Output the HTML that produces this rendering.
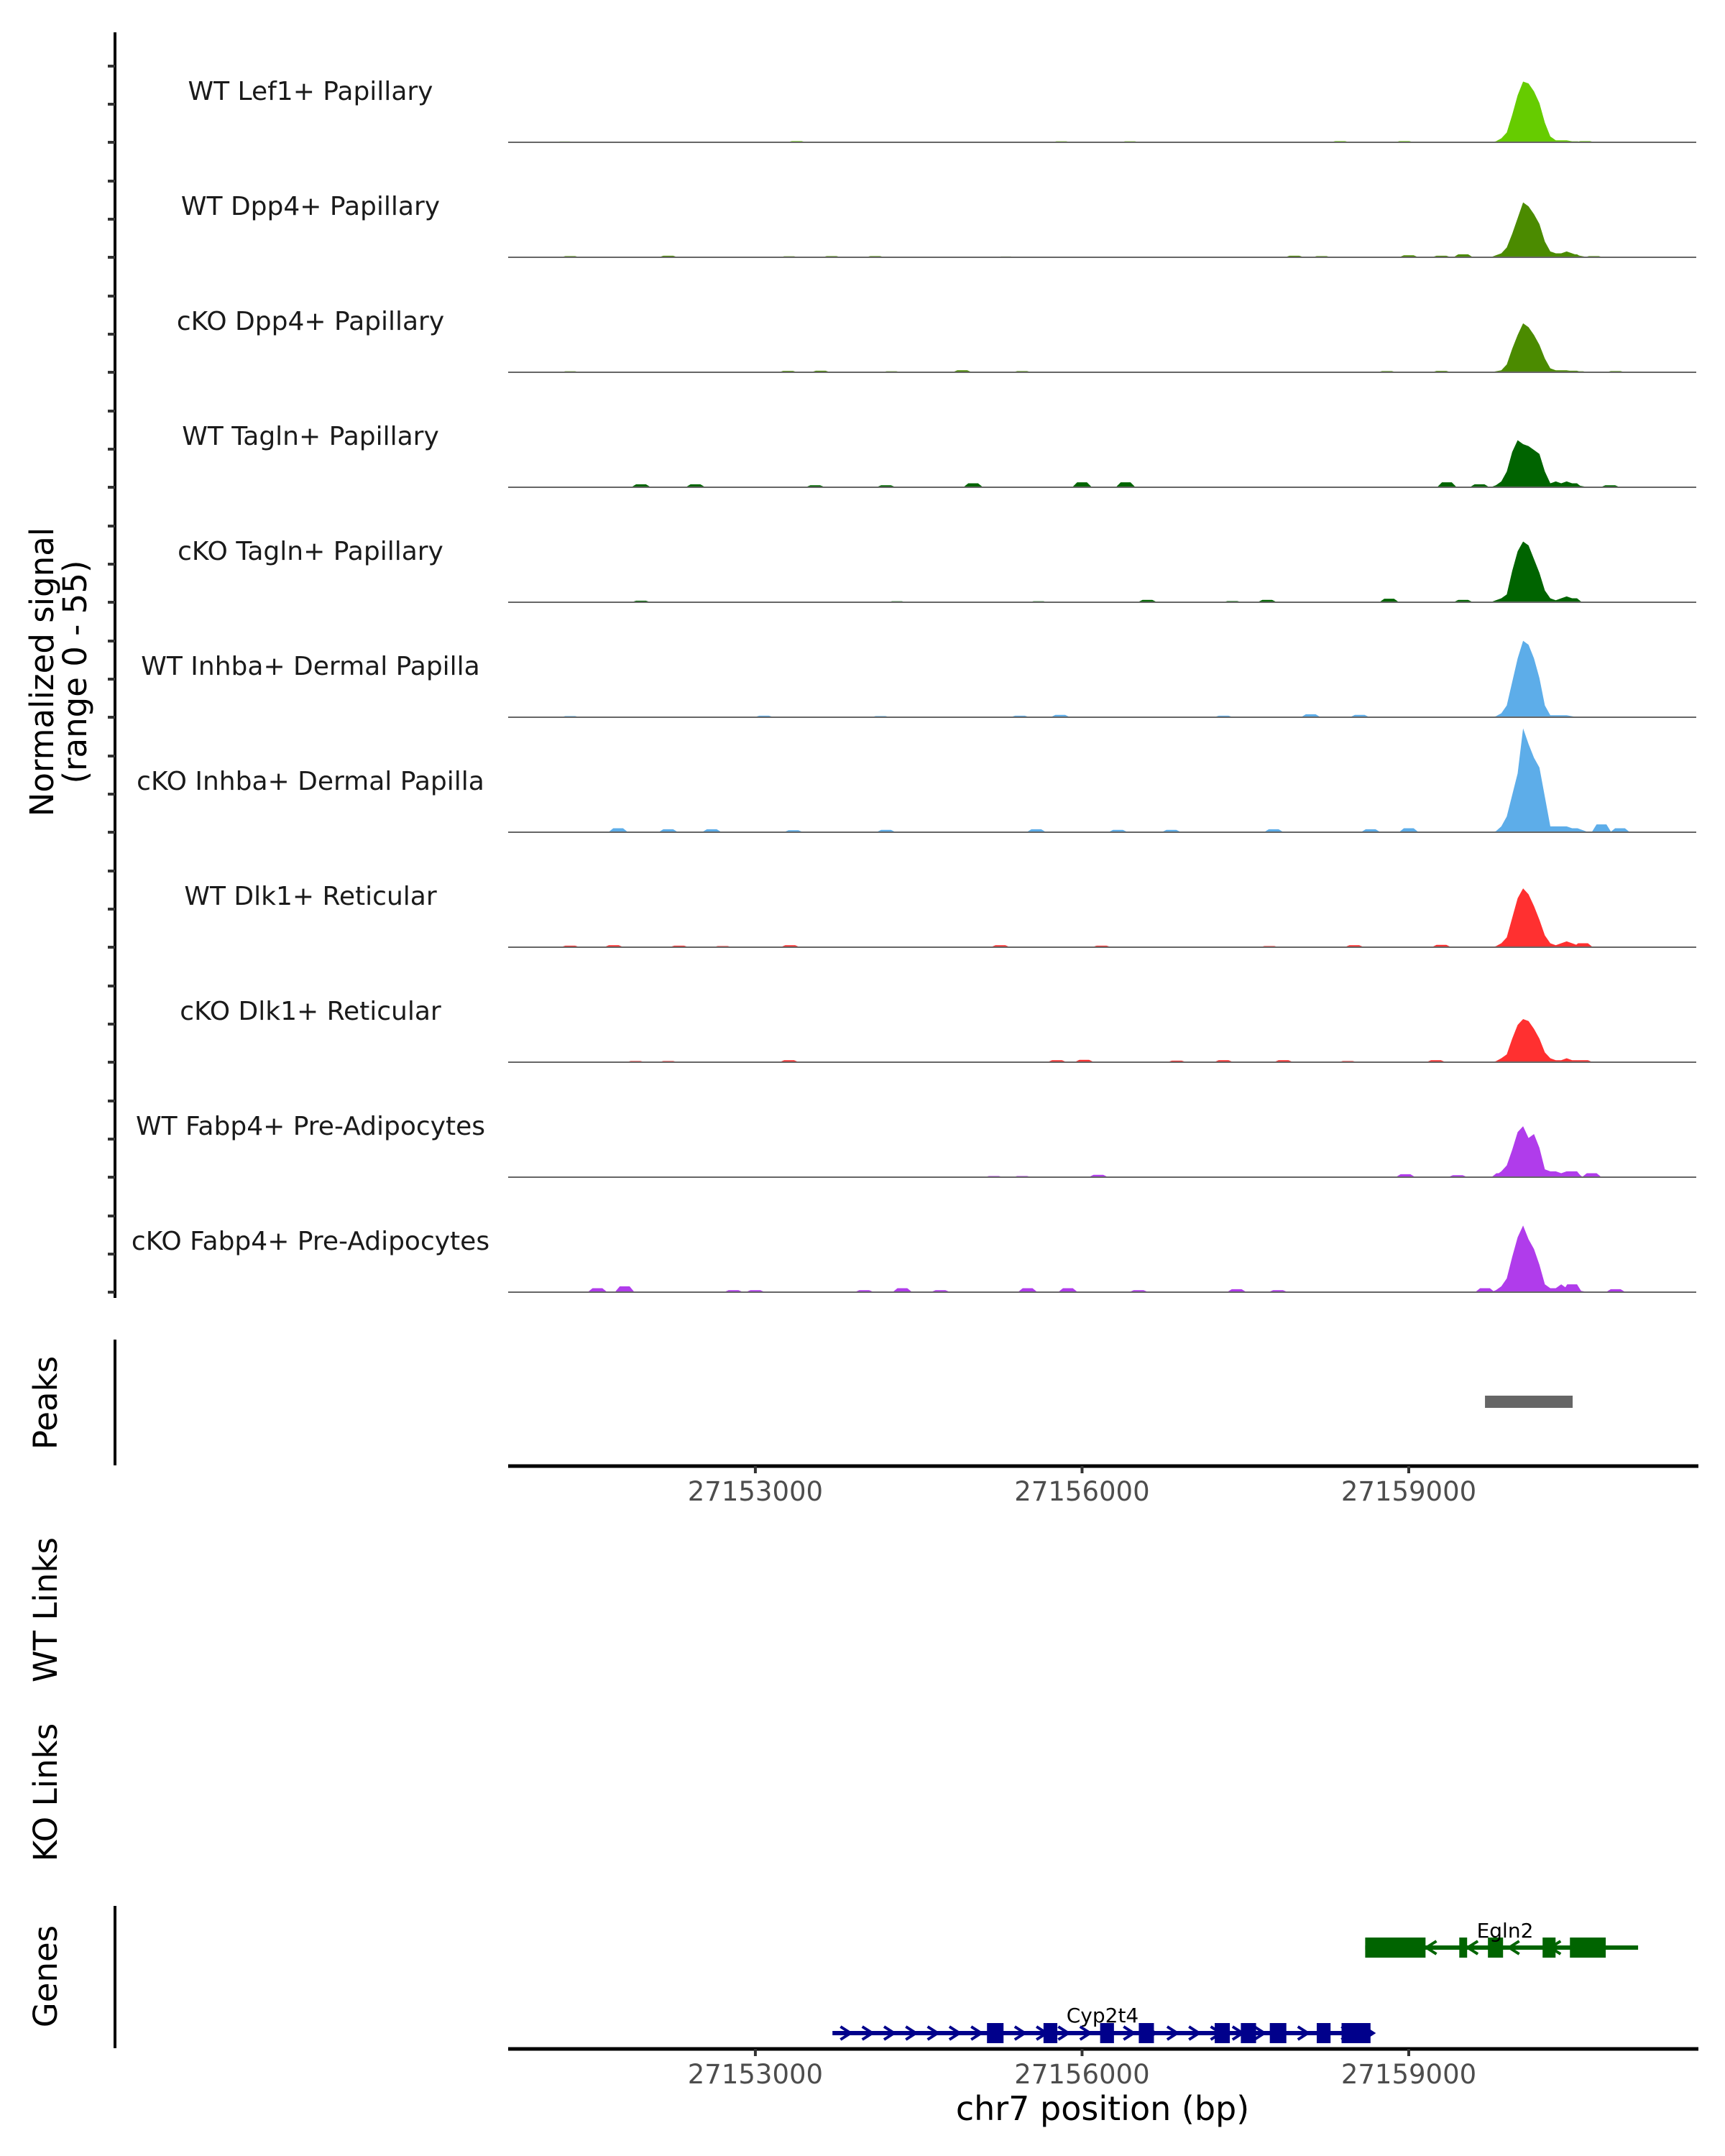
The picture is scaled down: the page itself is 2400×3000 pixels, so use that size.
<!DOCTYPE html>
<html><head><meta charset="utf-8">
<style>
html,body{margin:0;padding:0;background:#fff;}
svg{display:block;font-family:"DejaVu Sans","Liberation Sans",sans-serif;}
</style></head>
<body>
<svg id="fig" width="2400" height="3000" viewBox="0 0 2400 3000" xmlns="http://www.w3.org/2000/svg"></svg>
<script>
// ---- data ----
const domainStart = 27150730, domainEnd = 27161640;
const xTicks = [27153000, 27156000, 27159000];
const trackNames = ["WT Lef1+ Papillary","WT Dpp4+ Papillary","cKO Dpp4+ Papillary","WT Tagln+ Papillary","cKO Tagln+ Papillary","WT Inhba+ Dermal Papilla","cKO Inhba+ Dermal Papilla","WT Dlk1+ Reticular","cKO Dlk1+ Reticular","WT Fabp4+ Pre-Adipocytes","cKO Fabp4+ Pre-Adipocytes"];
const trackColors = ["#66cc00","#4b8b00","#4b8b00","#006400","#006400","#5dade9","#5dade9","#ff3030","#ff3030","#b03ceb","#b03ceb"];
const peakStart = 27159750, peakStep = 50;
const peak0 = [0,0.5,2,5,14,24,31,30,26,20,10,3,1,1,1,0.5,0.5,0,0];
const peak1 = [0,1,2,5,12,20,28,26,22,17,8,3,2,2,3,2,1,0.5,0];
const peak2 = [0,0.5,1,4,12,19,25,23,19,14,7,2,1,1,1,0.5,0.5,0.5,0];
const peak3 = [0,1,3,8,18,24,22,21,19,17,8,2,3,2,3,2,1,0.5,0];
const peak4 = [0,1,2,4,16,26,31,29,22,15,6,2,1,2,3,2,1,0,0];
const peak5 = [0,0.5,2,6,18,30,39,37,30,20,6,1,1,1,1,0.5,0,0,0];
const peak6 = [0,0.5,3,8,19,30,53,45,38,33,18,3,3,3,3,2,2,1,0];
const peak7 = [0,0.5,2,5,15,25,30,27,21,14,6,2,1,2,3,2,1,0,0];
const peak8 = [0,0.5,2,4,12,19,22,21,17,12,5,2,1,1,2,1,1,0,0];
const peak9 = [0,1,3,6,14,23,26,20,22,15,4,3,3,2,3,2,2,0,0];
const peak10 = [0,1,3,7,18,28,34,27,22,14,4,2,2,4,2,1,1,0.5,0];
const peaks = [peak0,peak1,peak2,peak3,peak4,peak5,peak6,peak7,peak8,peak9,peak10];
const bumpPos0 = [27151250,27153380,27155810,27156440,27158370,27158960,27160620];
const bumpVal0 = [0.4,0.6,0.5,0.5,0.6,0.6,0.6];
const bumpPos1 = [27151300,27152200,27153310,27153700,27154100,27155300,27157950,27158200,27159000,27159300,27159500,27160500,27160700];
const bumpVal1 = [0.6,0.8,0.5,0.6,0.6,0.4,0.8,0.6,1,0.8,1.5,1.5,0.6];
const bumpPos2 = [27151300,27153300,27153600,27154250,27154900,27155450,27158800,27159300,27160500,27160900];
const bumpVal2 = [0.5,0.7,0.8,0.5,1,0.6,0.6,0.7,0.8,0.6];
const bumpPos3 = [27151950,27152450,27153550,27154200,27155000,27156000,27156400,27159350,27159650,27160500,27160850];
const bumpVal3 = [1.5,1.5,1,1,2,2.5,2.5,2.5,1.5,2,1];
const bumpPos4 = [27151950,27154300,27155600,27156600,27157380,27157700,27158820,27159500,27160500];
const bumpVal4 = [0.8,0.5,0.5,1.2,0.6,1.2,1.8,1.2,2];
const bumpPos5 = [27151300,27153080,27154150,27155430,27155800,27157300,27158100,27158550];
const bumpVal5 = [0.6,0.8,0.6,0.8,1.2,0.8,1.5,1.2];
const bumpPos6 = [27151740,27152200,27152600,27153350,27154200,27155580,27156330,27156820,27157760,27158650,27159000,27160770,27160940];
const bumpVal6 = [2,1.5,1.5,1,1.2,1.5,1.2,1.2,1.5,1.5,2,4,2];
const bumpPos7 = [27151300,27151700,27152300,27152700,27153320,27155250,27156180,27157720,27158500,27159300,27160600];
const bumpVal7 = [0.8,1,0.8,0.6,1,1,0.8,0.6,1,1.2,2];
const bumpPos8 = [27151900,27152200,27153310,27155770,27156020,27156870,27157300,27157850,27158440,27159250,27160600];
const bumpVal8 = [0.6,0.6,1,1,1.2,0.8,1,1,0.6,1,1];
const bumpPos9 = [27155190,27155450,27156150,27158970,27159450,27159850,27160500,27160680];
const bumpVal9 = [0.6,0.6,1.2,1.5,1,2,3,2];
const bumpPos10 = [27151550,27151800,27152800,27153000,27154000,27154350,27154700,27155500,27155870,27156520,27157420,27157800,27159700,27160500,27160900];
const bumpVal10 = [2,3,1,1,1,2,1,2,2,1,1.5,1,2,4,1.5];
const bumpPos = [bumpPos0,bumpPos1,bumpPos2,bumpPos3,bumpPos4,bumpPos5,bumpPos6,bumpPos7,bumpPos8,bumpPos9,bumpPos10];
const bumpVal = [bumpVal0,bumpVal1,bumpVal2,bumpVal3,bumpVal4,bumpVal5,bumpVal6,bumpVal7,bumpVal8,bumpVal9,bumpVal10];
const peakRegionStart = [27159700], peakRegionEnd = [27160505];
const eglnStart = 27158600, eglnEnd = 27161106;
const eglnExonStart = [27158600,27159464,27159727,27160229,27160480];
const eglnExonEnd = [27159154,27159536,27159866,27160348,27160809];
const cypStart = 27153708, cypEnd = 27158649;
const cypExonStart = [27155127,27155646,27156166,27156521,27157218,27157458,27157724,27158155,27158383];
const cypExonEnd = [27155279,27155773,27156293,27156660,27157357,27157598,27157876,27158282,27158649];

// ---- layout ----
const NS = "http://www.w3.org/2000/svg";
const svg = document.getElementById('fig');
const X0 = 707, X1 = 2360;
function xs(bp){ return X0 + (bp - domainStart) / (domainEnd - domainStart) * (X1 - X0); }
const yUnit = 150 / 55;
const AXX = 160;
function mk(tag, attrs, parent){ const e = document.createElementNS(NS, tag); for (const k in attrs) e.setAttribute(k, attrs[k]); (parent||svg).appendChild(e); return e; }

let ax = mk('line',{x1:AXX,y1:45,x2:AXX,y2:1806,stroke:'#000','stroke-width':4});



for (let i = 0; i < trackNames.length; i++) {
  const base = 198 + 160 * i;
  const g = mk('g', {});
  
  
  for (let t = 0; t < 3; t++) {
    const tk = mk('line',{x1:AXX-10,x2:AXX,y1:base-106+53*t,y2:base-106+53*t,stroke:'#333','stroke-width':4}, g);
    
    
  }
  const lbl = mk('text',{x:432,y:base-59,'text-anchor':'middle','font-size':36,fill:'#1a1a1a'}, g);
  lbl.textContent = trackNames[i];
  
  
  const col = trackColors[i];
  for (let j = 0; j < bumpPos[i].length; j++) {
    const p = bumpPos[i][j], v = bumpVal[i][j];
    const b = mk('polygon',{points:`${xs(p-90)},${base} ${xs(p-45)},${base - v*yUnit} ${xs(p+45)},${base - v*yUnit} ${xs(p+90)},${base}`, fill:col}, g);
    
    
  }
  const arr = peaks[i];
  let pts = `${xs(peakStart)},${base}`;
  for (let k = 0; k < arr.length; k++) pts += ` ${xs(peakStart + k*peakStep)},${base - arr[k]*yUnit}`;
  pts += ` ${xs(peakStart + (arr.length-1)*peakStep)},${base}`;
  const pk = mk('polygon',{points:pts, fill:col}, g);
  
  
  const bl = mk('line',{x1:X0,x2:X1,y1:base,y2:base,stroke:'#666','stroke-width':2}, g);
  
  
}

const yt = mk('text',{transform:'translate(74,935) rotate(-90)','text-anchor':'middle','font-size':45,fill:'#000'});


const ts1 = mk('tspan',{x:0,dy:0}, yt); ts1.textContent = 'Normalized signal';
const ts2 = mk('tspan',{x:0,dy:46}, yt); ts2.textContent = '(range 0 - 55)';

function sideLabel(txt, cy, name){
  const t = mk('text',{transform:`translate(79,${cy}) rotate(-90)`,'text-anchor':'middle','font-size':45,fill:'#000'});
  t.textContent = txt;
  
  
}
sideLabel('Peaks', 1952, 'peaks-label');
sideLabel('WT Links', 2240, 'wt-links-label');
sideLabel('KO Links', 2494, 'ko-links-label');
sideLabel('Genes', 2750, 'genes-label');

let l2 = mk('line',{x1:AXX,y1:1864,x2:AXX,y2:2039,stroke:'#000','stroke-width':4});


let l3 = mk('line',{x1:AXX,y1:2652,x2:AXX,y2:2850,stroke:'#000','stroke-width':4});



for (let i = 0; i < peakRegionStart.length; i++) {
  const r = mk('rect',{x:xs(peakRegionStart[i]),y:1942,width:xs(peakRegionEnd[i])-xs(peakRegionStart[i]),height:17,fill:'#666'});
  
  
}

function xAxis(y, name){
  const a = mk('line',{x1:X0,x2:X1+3,y1:y,y2:y,stroke:'#000','stroke-width':5});
  
  
  for (const t of xTicks) {
    const tk = mk('line',{x1:xs(t),x2:xs(t),y1:y,y2:y+10,stroke:'#333','stroke-width':4});
    
    
    const tl = mk('text',{x:xs(t),y:y+48,'text-anchor':'middle','font-size':37,fill:'#4d4d4d'});
    tl.textContent = t;
    
    
  }
}
xAxis(2040, 'peaks-x-axis');
xAxis(2851, 'genes-x-axis');
const xt = mk('text',{x:1534,y:2950,'text-anchor':'middle','font-size':46,fill:'#000'});
xt.textContent = 'chr7 position (bp)';



function gene(name, y, s, e, es, ee, col, dir, step, lx, ly){
  const g = mk('g',{});
  
  
  mk('line',{x1:xs(s),x2:xs(e),y1:y,y2:y,stroke:col,'stroke-width':6}, g);
  for (let p = s + step*0.6; p < e; p += step) {
    const x = xs(p), d = dir * 7;
    mk('polyline',{points:`${x-d},${y-9} ${x+d},${y} ${x-d},${y+9}`,fill:'none',stroke:col,'stroke-width':4}, g);
  }
  for (let k = 0; k < es.length; k++) {
    const ex = mk('rect',{x:xs(es[k]),y:y-14,width:xs(ee[k])-xs(es[k]),height:28,fill:col}, g);
    
    
  }
  const t = mk('text',{x:lx,y:ly,'text-anchor':'middle','font-size':28,fill:'#000'}, g);
  t.textContent = name;
}
gene('Egln2', 2710, eglnStart, eglnEnd, eglnExonStart, eglnExonEnd, '#006400', -1, 380, 2094, 2696);
gene('Cyp2t4', 2829, cypStart, cypEnd, cypExonStart, cypExonEnd, '#00008b', 1, 200, 1534, 2814);
</script>
</body></html>
